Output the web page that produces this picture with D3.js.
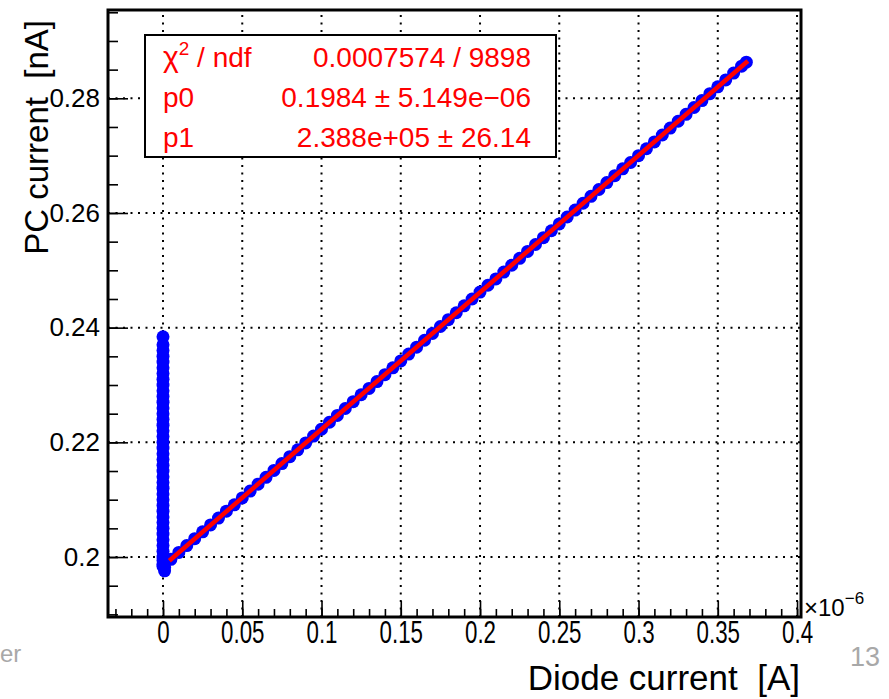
<!DOCTYPE html>
<html><head><meta charset="utf-8">
<script src="https://cdn.jsdelivr.net/npm/d3@7"></script>
<style>
body{margin:0;background:#fff;}
svg{display:block;}
text{font-family:"Liberation Sans",Arial,Helvetica,sans-serif;}
</style>
</head><body>
<svg id="c" width="889" height="699"></svg>
<script>
// Diode current (x 1e-6 A) and PC current (nA) for the linear part
const diodeX = [0.000,0.005,0.010,0.015,0.020,0.025,0.030,0.035,0.040,0.045,0.050,0.055,0.060,0.065,0.070,0.075,0.080,0.085,0.090,0.095,
  0.100,0.105,0.110,0.115,0.120,0.125,0.130,0.135,0.140,0.145,0.150,0.155,0.160,0.165,0.170,0.175,0.180,0.185,0.190,0.195,
  0.200,0.205,0.210,0.215,0.220,0.225,0.230,0.235,0.240,0.245,0.250,0.255,0.260,0.265,0.270,0.275,0.280,0.285,0.290,0.295,
  0.300,0.305,0.310,0.315,0.320,0.325,0.330,0.335,0.340,0.345,0.350,0.355,0.360,0.365,0.368];
const pcY = [0.1984,0.1996,0.2008,0.2020,0.2032,0.2044,0.2056,0.2068,0.2080,0.2091,0.2103,0.2115,0.2127,0.2139,0.2151,0.2163,0.2175,0.2187,0.2199,0.2211,
  0.2223,0.2235,0.2247,0.2259,0.2271,0.2283,0.2294,0.2306,0.2318,0.2330,0.2342,0.2354,0.2366,0.2378,0.2390,0.2402,0.2414,0.2426,0.2438,0.2450,
  0.2462,0.2474,0.2485,0.2497,0.2509,0.2521,0.2533,0.2545,0.2557,0.2569,0.2581,0.2593,0.2605,0.2617,0.2629,0.2641,0.2653,0.2665,0.2677,0.2688,
  0.2700,0.2712,0.2724,0.2736,0.2748,0.2760,0.2772,0.2784,0.2796,0.2808,0.2820,0.2832,0.2844,0.2856,0.2863];
// Points at zero diode current (vertical spike)
const spikeX = [0.001,0.001,0.000,0.000,0.000,0.000,0.000,0.000,0.000,0.000,0.000,0.000,0.000,0.000,0.000,0.000,0.000,0.000,0.000,0.000,
  0.000,0.000,0.000,0.000,0.000,0.000,0.000,0.000,0.000,0.000,0.000,0.000,0.000,0.000,0.000,0.000,0.000,0.000,0.000,0.000,0.000,0.000,0.000];
const spikeY = [0.1976,0.1982,0.1988,0.1994,0.2000,0.2010,0.2020,0.2030,0.2040,0.2050,0.2060,0.2070,0.2080,0.2090,0.2100,0.2110,0.2120,0.2130,0.2140,0.2150,
  0.2160,0.2170,0.2180,0.2190,0.2200,0.2210,0.2220,0.2230,0.2240,0.2250,0.2260,0.2270,0.2280,0.2290,0.2300,0.2310,0.2320,0.2330,0.2340,0.2350,0.2360,0.2370,0.2384];
// Fit: y = p0 + p1*x  (x in 1e-6 A)
const fitP0 = 0.1984;
const fitP1 = 0.2388;
const fitRange = [0.004, 0.369];

const xTicks = [0,0.05,0.1,0.15,0.2,0.25,0.3,0.35,0.4];
const xTickLabels = ["0","0.05","0.1","0.15","0.2","0.25","0.3","0.35","0.4"];
const yTicks = [0.2,0.22,0.24,0.26,0.28];
const yTickLabels = ["0.2","0.22","0.24","0.26","0.28"];
const statNames = ["χ", "p0", "p1"];
const statValues = ["0.0007574 / 9898", "0.1984 ± 5.149e−06", "2.388e+05 ± 26.14"];

const svg = d3.select("#c");
const L=108, R=801, T=10, B=617;
const x = d3.scaleLinear().domain([-0.0347, 0.4025]).range([L, R]);
const y = d3.scaleLinear().domain([0.18954, 0.2954]).range([B, T]);

// grid
const grid = svg.append("g").attr("stroke","#000").attr("stroke-width",2).attr("stroke-dasharray","2 5.5");
grid.selectAll(".gx").data(xTicks).join("line")
  .attr("x1",d=>x(d)).attr("x2",d=>x(d)).attr("y1",B).attr("y2",T);
grid.selectAll(".gy").data(yTicks).join("line")
  .attr("y1",d=>y(d)).attr("y2",d=>y(d)).attr("x1",L).attr("x2",R);

// data markers
const pts = diodeX.map((d,i)=>[d,pcY[i]]).concat(spikeX.map((d,i)=>[d,spikeY[i]]));
svg.append("g").attr("fill","#0000ff").selectAll("circle").data(pts).join("circle")
  .attr("cx",d=>x(d[0])).attr("cy",d=>y(d[1])).attr("r",6.5);

// fit line
svg.append("line").attr("stroke","#ff0000").attr("stroke-width",4.5)
  .attr("x1",x(fitRange[0])).attr("y1",y(fitP0+fitP1*fitRange[0]))
  .attr("x2",x(fitRange[1])).attr("y2",y(fitP0+fitP1*fitRange[1]));

// axes
const xMinor = d3.range(-0.03, 0.4001, 0.01);
const yMinor = d3.range(0.19, 0.2951, 0.005);
const gx = svg.append("g").attr("transform",`translate(0,${B})`);
gx.call(d3.axisBottom(x).tickValues(xMinor).tickSize(-8).tickFormat(""));
gx.call(g=>g.select(".domain").remove());
const gx2 = svg.append("g").attr("transform",`translate(0,${B})`)
  .call(d3.axisBottom(x).tickValues(xTicks).tickSize(-16).tickPadding(4).tickFormat((d,i)=>xTickLabels[i]));
gx2.select(".domain").remove();
gx2.selectAll("text").attr("font-size",31).attr("fill","#000").attr("transform","scale(0.72,1)")
  .style("font-family","'Liberation Sans',Arial,sans-serif");

const gy = svg.append("g").attr("transform",`translate(${L},0)`);
gy.call(d3.axisLeft(y).tickValues(yMinor).tickSize(-10).tickFormat(""));
gy.select(".domain").remove();
const gy2 = svg.append("g").attr("transform",`translate(${L},0)`)
  .call(d3.axisLeft(y).tickValues(yTicks).tickSize(-20).tickPadding(8).tickFormat((d,i)=>yTickLabels[i]));
gy2.select(".domain").remove();
gy2.selectAll("text").attr("font-size",26).attr("fill","#000").style("font-family","'Liberation Sans',Arial,sans-serif");
svg.selectAll(".tick line").attr("stroke-width",1.6).attr("stroke","#000");

// frame
svg.append("rect").attr("x",L).attr("y",T).attr("width",R-L).attr("height",B-T)
  .attr("fill","none").attr("stroke","#000").attr("stroke-width",3);

// stats box
svg.append("rect").attr("x",145).attr("y",35).attr("width",411).attr("height",122)
  .attr("fill","#fff").attr("stroke","#000").attr("stroke-width",2);
const rowsY = [67,107,147];
const st = svg.append("g").attr("fill","#ff0000").attr("font-size",28);
statNames.forEach((n,i)=>{
  const t = st.append("text").attr("x",163).attr("y",rowsY[i]).text(n);
  if(i===0){
    t.attr("font-size",30);
    t.append("tspan").attr("font-size",19).attr("dy",-12).text("2");
    t.append("tspan").attr("font-size",28).attr("dy",12).text(" / ndf");
  }
  st.append("text").attr("x",531).attr("y",rowsY[i]).attr("text-anchor","end").text(statValues[i]);
});

// axis titles
svg.append("text").attr("x",800).attr("y",690).attr("text-anchor","end").attr("font-size",35)
  .style("white-space","pre").text("Diode current  [A]");
svg.append("text").attr("transform","translate(48,20) rotate(-90)").attr("text-anchor","end").attr("font-size",33)
  .style("white-space","pre").text("PC current  [nA]");

// exponent
const ex = svg.append("text").attr("x",804).attr("y",616).attr("font-size",24).text("×10");
ex.append("tspan").attr("font-size",17).attr("dy",-12).text("−6");

// slide remnants
svg.append("text").attr("x",850).attr("y",666).attr("font-size",27).attr("fill","#a8a8a8").text("13");
svg.append("text").attr("x",0).attr("y",662).attr("font-size",24).attr("fill","#a8a8a8").text("er");
</script>
</body></html>
